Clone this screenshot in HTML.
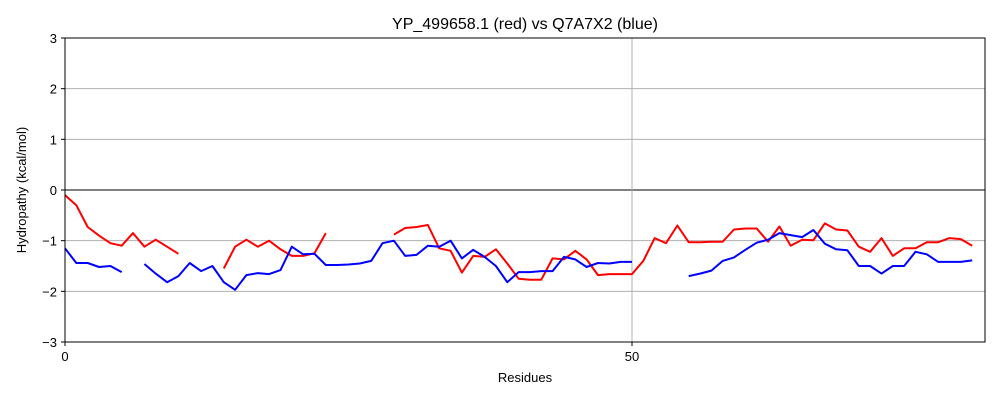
<!DOCTYPE html>
<html><head><meta charset="utf-8"><style>
body{margin:0;background:#fff;}
svg{display:block;font-family:"Liberation Sans",sans-serif;}
</style></head><body>
<svg id="chart" width="1000" height="400"></svg>
<script>
const red = [-0.1,-0.3,-0.73,-0.9,-1.05,-1.1,-0.85,-1.12,-0.98,-1.12,-1.26,null,null,null,
-1.55,-1.12,-0.98,-1.12,-1.0,-1.17,-1.3,-1.3,-1.25,-0.85,null,null,null,null,null,
-0.88,-0.75,-0.73,-0.69,-1.15,-1.2,-1.63,-1.3,-1.32,-1.17,
-1.45,-1.75,-1.77,-1.77,-1.35,-1.37,-1.2,-1.37,-1.68,-1.66,
-1.66,-1.66,-1.4,-0.95,-1.05,-0.7,-1.03,-1.03,-1.02,-1.02,
-0.78,-0.76,-0.76,-1.02,-0.72,-1.1,-0.98,-0.99,-0.66,-0.78,
-0.8,-1.12,-1.22,-0.95,-1.3,-1.15,-1.15,-1.03,-1.03,-0.95,-0.97,-1.1];
const blue = [-1.15,-1.44,-1.44,-1.52,-1.5,-1.62,null,
-1.46,-1.65,-1.82,-1.7,-1.44,-1.6,-1.5,-1.82,-1.97,-1.68,-1.64,-1.66,-1.58,-1.12,-1.27,-1.26,-1.48,-1.48,-1.47,-1.45,-1.4,-1.05,-1.0,-1.3,-1.28,-1.1,-1.12,-1.0,-1.35,-1.18,-1.32,-1.5,-1.82,-1.62,-1.62,-1.6,-1.6,-1.32,-1.37,-1.52,-1.44,-1.45,-1.42,-1.42,
null,null,null,null,
-1.7,-1.65,-1.59,-1.4,-1.33,-1.18,-1.04,-0.98,-0.85,-0.89,-0.93,-0.79,-1.06,-1.17,-1.19,-1.5,-1.5,-1.65,-1.5,-1.5,-1.22,-1.27,-1.42,-1.42,-1.42,-1.39];
const yTicks = [-3,-2,-1,0,1,2,3];
const xTicks = [0,50];
const L=65,R=985,T=38,B=342,XMAX=81.13;
const sx = v => L + v*(R-L)/XMAX;
const sy = v => T + (3-v)*(B-T)/6;
const svg = document.getElementById('chart');
const NS='http://www.w3.org/2000/svg';
function mk(tag, attrs, parent){const e=document.createElementNS(NS,tag);for(const k in attrs)e.setAttribute(k,attrs[k]);(parent||svg).appendChild(e);return e;}
// grid
yTicks.forEach(t=>{
  const g=mk('line',{x1:L,x2:R,y1:sy(t),y2:sy(t),stroke:t===0?'#000':'#b0b0b0','stroke-width':t===0?1:1});
  
  
  mk('line',{x1:L-4,x2:L,y1:sy(t),y2:sy(t),stroke:'#000'});
  const lb=mk('text',{x:L-8,y:sy(t)+5,'text-anchor':'end','font-size':13});
  lb.textContent = t<0 ? '\u2212'+Math.abs(t) : String(t);
  
  
});
xTicks.forEach(t=>{
  const g=mk('line',{x1:sx(t),x2:sx(t),y1:T,y2:B,stroke:t===0?'#000':'#b0b0b0'});
  
  
  mk('line',{x1:sx(t),x2:sx(t),y1:B,y2:B+4,stroke:'#000'});
  const lb=mk('text',{x:sx(t),y:B+19,'text-anchor':'middle','font-size':13});
  lb.textContent=String(t);
  
  
});
function series(data,color,name){
  let d='',pen=false;
  data.forEach((v,i)=>{
    if(v===null){pen=false;return;}
    d+=(pen?'L':'M')+sx(i).toFixed(1)+','+sy(v).toFixed(1);
    pen=true;
  });
  const p=mk('path',{d:d,fill:'none',stroke:color,'stroke-width':2,'stroke-linejoin':'round'});
  
  
}
series(red,'#ff0000','red-series-line');
series(blue,'#0000ff','blue-series-line');
const fr=mk('rect',{x:L,y:T,width:R-L,height:B-T,fill:'none',stroke:'#000','stroke-width':1});


const title=mk('text',{x:(L+R)/2,y:29,'text-anchor':'middle','font-size':16});
title.textContent='YP_499658.1 (red) vs Q7A7X2 (blue)';


const xl=mk('text',{x:(L+R)/2,y:382,'text-anchor':'middle','font-size':13});
xl.textContent='Residues';


const yl=mk('text',{x:0,y:0,'text-anchor':'middle','font-size':13,transform:'translate(26,190) rotate(-90)'});
yl.textContent='Hydropathy (kcal/mol)';


</script>
</body></html>
